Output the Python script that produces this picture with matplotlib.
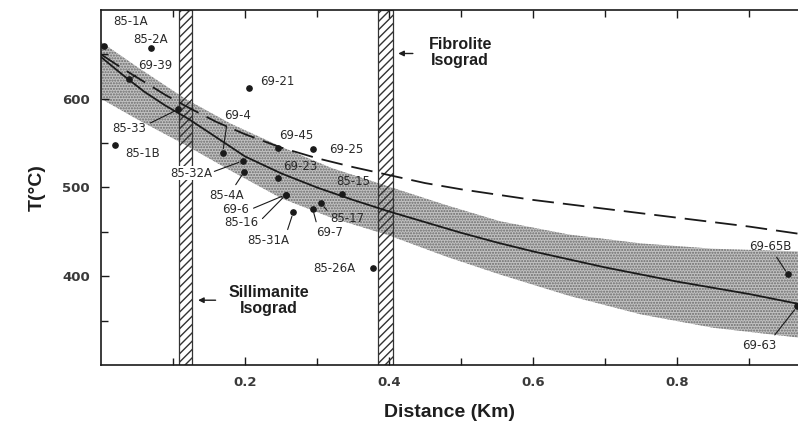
import numpy as np
import matplotlib
matplotlib.use("Agg")
import matplotlib.pyplot as plt

# Data

# solid curve (best fit) and dashed curve, T in deg C vs distance in km
SOLID_X = [0.0, 0.03, 0.06, 0.09, 0.12, 0.15, 0.2, 0.25, 0.3, 0.35, 0.4,
           0.45, 0.5, 0.55, 0.6, 0.65, 0.7, 0.75, 0.8, 0.85, 0.9, 0.968]
SOLID_T = [647, 627, 608, 592, 578, 562, 535, 516, 500, 486, 473,
           461, 449, 438, 428, 419, 410, 402, 394, 387, 380, 369]

DASH_X = [0.0, 0.03, 0.06, 0.09, 0.124, 0.16, 0.2, 0.25, 0.3, 0.35, 0.4,
          0.45, 0.5, 0.55, 0.6, 0.65, 0.7, 0.75, 0.8, 0.85, 0.9, 0.968]
DASH_T = [650, 634, 619, 604, 589, 574, 560, 545, 533, 523, 514,
          505, 498, 492, 486, 481, 476, 471, 466, 461, 456, 448]

# stippled uncertainty band
BAND_X  = [0.0, 0.05, 0.117, 0.18, 0.25, 0.32, 0.4, 0.48, 0.554, 0.65, 0.75, 0.85, 0.968]
BAND_HI = [664, 636, 600, 572, 546, 522, 501, 480, 462, 447, 437, 431, 428]
BAND_LO = [600, 577, 548, 519, 488, 466, 446, 422, 402, 378, 357, 342, 331]

# isograd positions (km)
SILL_ISO = (0.108, 0.127)
FIBR_ISO = (0.385, 0.405)

SAMPLES  = ["85-1A", "85-2A", "69-39", "69-21", "69-4", "69-45", "85-33",
            "85-1B", "85-32A", "85-4A", "69-23", "69-6", "85-16", "85-31A",
            "69-7", "85-17", "85-15", "69-25", "85-26A", "69-65B", "69-63"]
SAMPLE_X = [0.004, 0.069, 0.039, 0.206, 0.169, 0.246, 0.107,
            0.019, 0.197, 0.199, 0.246, 0.257, 0.257, 0.267,
            0.294, 0.306, 0.335, 0.294, 0.378, 0.954, 0.967]
SAMPLE_T = [660, 657, 622, 612, 539, 545, 588,
            548, 530, 518, 511, 492, 492, 472,
            476, 482, 493, 543, 409, 402, 366]

# label placement: offset in points, and leader-line anchor on the label (or None)
LABEL_POS = {
    "85-1A":  ((19, 17),   None),
    "85-2A":  ((0, 6),     None),
    "69-39":  ((19, 10),   (0.1, 0.0)),
    "69-21":  ((20, 5),    None),
    "69-4":   ((11, 27),   (0.1, 0.0)),
    "69-45":  ((13, 9),    None),
    "85-33":  ((-35, -14), (1.0, 0.8)),
    "85-1B":  ((20, -6),   None),
    "85-32A": ((-37, -9),  (1.0, 0.6)),
    "85-4A":  ((-13, -17), (0.7, 1.0)),
    "69-23":  ((16, 8),    None),
    "69-6":   ((-36, -11), (1.0, 0.5)),
    "85-16":  ((-32, -20), (1.0, 0.5)),
    "85-31A": ((-18, -20), (0.93, 1.0)),
    "69-7":   ((12, -17),  (0.05, 1.0)),
    "85-17":  ((19, -11),  (0.0, 0.8)),
    "85-15":  ((8, 9),     None),
    "69-25":  ((24, 0),    None),
    "85-26A": ((-28, 0),   None),
    "69-65B": ((-13, 20),  (0.6, 0.0)),
    "69-63":  ((-27, -28), (0.85, 1.0)),
}

TEXT_C = "#1e1e1e"
LINE_C = "#1a1a1a"

# Figure

fig = plt.figure(figsize=(7.98, 4.36), dpi=100)
ax = fig.add_axes([101 / 798, 71 / 436, 697 / 798, 355 / 436])

ax.fill_between(BAND_X, BAND_LO, BAND_HI, facecolor="#c2c2c2", edgecolor="#6a6a6a",
                hatch="......", linewidth=0, zorder=1)

for lo, hi in (SILL_ISO, FIBR_ISO):
    ax.axvspan(lo, hi, facecolor="none", edgecolor="#333333", hatch="////",
               linewidth=0.9, zorder=2)

ax.plot(SOLID_X, SOLID_T, color=LINE_C, lw=1.3, zorder=3)
ax.plot(DASH_X, DASH_T, color=LINE_C, lw=1.3, dashes=(12, 5), zorder=3)

ax.plot(SAMPLE_X, SAMPLE_T, "o", color=LINE_C, ms=3.8, zorder=4)

for name, x, t in zip(SAMPLES, SAMPLE_X, SAMPLE_T):
    off, rel = LABEL_POS[name]
    kw = {}
    if rel is not None:
        kw["arrowprops"] = dict(arrowstyle="-", lw=0.8, color=LINE_C,
                                relpos=rel, shrinkA=1, shrinkB=3)
    if name == "85-32A":
        # this label sits over the sillimanite isograd bar
        kw["bbox"] = dict(boxstyle="square,pad=0.05", fc="white", ec="none")
    ax.annotate(name, (x, t), xytext=off, textcoords="offset points",
                ha="center", va="center", fontsize=8.5, color="#2a2a2a",
                annotation_clip=False, zorder=5, **kw)

# isograd labels
ax.text(0.233, 373, "Sillimanite\nIsograd", ha="center", va="center",
        fontsize=11.5, fontweight="bold", color=TEXT_C, linespacing=1.1,
        family="Liberation Sans")
ax.annotate("", xy=(0.131, 373), xytext=(0.163, 373),
            arrowprops=dict(arrowstyle="-|>", lw=1.0, color=TEXT_C, mutation_scale=8))
ax.text(0.499, 652, "Fibrolite\nIsograd", ha="center", va="center",
        fontsize=11.5, fontweight="bold", color=TEXT_C, linespacing=1.1,
        family="Liberation Sans")
ax.annotate("", xy=(0.409, 651), xytext=(0.437, 651),
            arrowprops=dict(arrowstyle="-|>", lw=1.0, color=TEXT_C, mutation_scale=8))

# Axes styling

ax.set_xlim(0, 697 / 720)
ax.set_ylim(300, 700)
ax.set_xticks([0.2, 0.4, 0.6, 0.8])
ax.set_xticklabels(["0.2", "0.4", "0.6", "0.8"])
ax.set_xticks([0.1, 0.3, 0.5, 0.7, 0.9], minor=True)
ax.set_yticks([400, 500, 600])
ax.set_yticks([350, 450, 550, 650], minor=True)
ax.tick_params(which="both", direction="in", top=True, right=False,
               labelsize=9.5, colors=LINE_C, labelcolor="#3a3a3a")
ax.tick_params(which="major", length=6, width=1.0, pad=8)
ax.tick_params(which="minor", length=5, width=1.0)
for lab in ax.get_xticklabels() + ax.get_yticklabels():
    lab.set_fontweight("bold")
ax.spines["right"].set_visible(False)
for s in ("left", "bottom", "top"):
    ax.spines[s].set_linewidth(1.2)
    ax.spines[s].set_color(LINE_C)

ax.set_xlabel("Distance (Km)", fontsize=14, fontweight="bold", color=TEXT_C,
              labelpad=11, family="Liberation Sans")
ax.set_ylabel("T(°C)", fontsize=14, fontweight="bold", color=TEXT_C,
              labelpad=12, family="Liberation Sans")

fig.savefig("out.png", dpi=100)
